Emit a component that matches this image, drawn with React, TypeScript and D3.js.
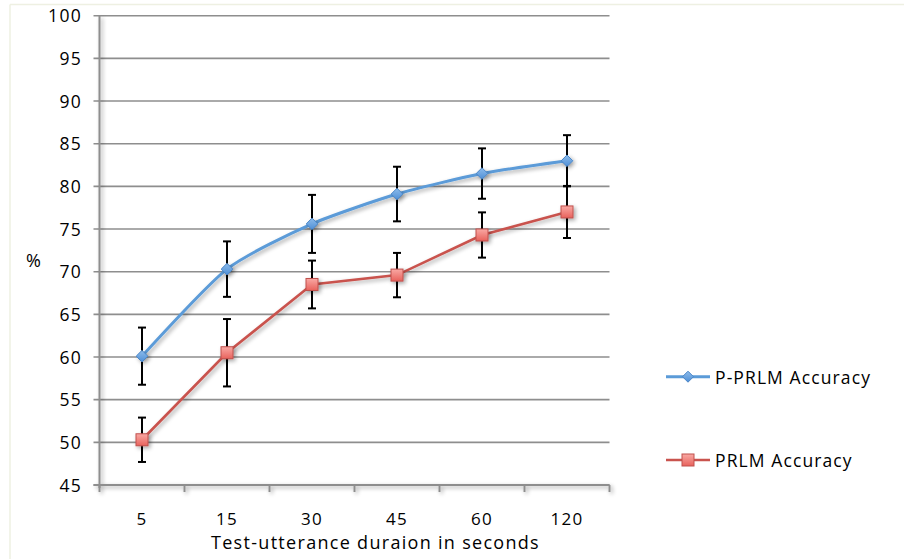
import React from "react";
import * as d3 from "d3";

const categories = ["5", "15", "30", "45", "60", "120"];
const pprlmValues = [60.1, 70.3, 75.6, 79.1, 81.5, 83.0];
const pprlmErrors = [3.35, 3.25, 3.4, 3.2, 2.95, 3.0];
const prlmValues = [50.3, 60.5, 68.5, 69.6, 74.3, 77.0];
const prlmErrors = [2.6, 3.95, 2.8, 2.6, 2.65, 3.05];
const yTicks = [45, 50, 55, 60, 65, 70, 75, 80, 85, 90, 95, 100];
const seriesNames = ["P-PRLM Accuracy", "PRLM Accuracy"];
const yLabel = "%";
const xLabel = "Test-utterance duraion in seconds";

const W = 904;
const H = 559;
const left = 99.5;
const right = 609.5;
const top = 15.7;
const bottom = 485;

const FONT = "'Open Sans', 'Liberation Sans', sans-serif";
const BLUE = "#5B9BD8";
const RED = "#C9534E";
const GRID = "#8E8E8E";
const TXT = "#000";

export default function App() {
  const x = d3.scalePoint<string>().domain(categories).range([left, right]).padding(0.5);
  const y = d3.scaleLinear().domain([45, 100]).range([bottom, top]);

  const blueLine = d3
    .line<number>()
    .x((_, i) => x(categories[i])!)
    .y((d) => y(d))
    .curve(d3.curveCardinal.tension(0.35));
  const redLine = d3
    .line<number>()
    .x((_, i) => x(categories[i])!)
    .y((d) => y(d));

  const step = x.step();
  const tickXs = d3.range(categories.length + 1).map((i) => left + i * step);

  const diamond = (cx: number, cy: number, r: number) =>
    `M${cx},${cy - r}L${cx + r},${cy}L${cx},${cy + r}L${cx - r},${cy}Z`;

  const errBars = (vals: number[], errs: number[], key: string) =>
    vals.map((v, i) => {
      const cx = x(categories[i])!;
      const y1 = y(v + errs[i]);
      const y2 = y(v - errs[i]);
      return (
        <g key={key + i} stroke="#000" strokeWidth={2}>
          <line x1={cx} x2={cx} y1={y1} y2={y2} />
          <line x1={cx - 4} x2={cx + 4} y1={y1} y2={y1} />
          <line x1={cx - 4} x2={cx + 4} y1={y2} y2={y2} />
        </g>
      );
    });

  return (
    <div style={{ position: "absolute", left: 0, top: 0, width: W, height: H, background: "#fff" }}>
      <svg width={W} height={H} style={{ display: "block" }}>
        <defs>
          <filter id="sh" x="-50%" y="-50%" width="200%" height="200%">
            <feGaussianBlur in="SourceAlpha" stdDeviation="2" />
            <feOffset dx="2" dy="2" result="b" />
            <feComponentTransfer>
              <feFuncA type="linear" slope="0.35" />
            </feComponentTransfer>
            <feMerge>
              <feMergeNode />
              <feMergeNode in="SourceGraphic" />
            </feMerge>
          </filter>
          <linearGradient id="redFill" x1="0" y1="0" x2="0" y2="1">
            <stop offset="0" stopColor="#F9A9A4" />
            <stop offset="1" stopColor="#E8625C" />
          </linearGradient>
          <linearGradient id="blueFill" x1="0" y1="0" x2="0" y2="1">
            <stop offset="0" stopColor="#8DBCEB" />
            <stop offset="1" stopColor="#4F8FD6" />
          </linearGradient>
        </defs>

        {/* outer frame */}
        <line x1={10} x2={904} y1={4.5} y2={4.5} stroke="#EEF0E2" strokeWidth={1.5} />
        <line x1={10} x2={10} y1={4.5} y2={559} stroke="#EEF0E2" strokeWidth={1.5} />

        {/* gridlines */}
        {yTicks.map((t) => (
          <line key={"g" + t} x1={left - 6} x2={right} y1={y(t)} y2={y(t)} stroke={GRID} strokeWidth={1.6} />
        ))}

        {/* axes with shadow */}
        <g filter="url(#sh)">
          <line x1={left} x2={left} y1={top} y2={bottom + 3} stroke={GRID} strokeWidth={2} />
          <line x1={left - 6} x2={right} y1={bottom} y2={bottom} stroke={GRID} strokeWidth={2} />
          {tickXs.map((tx, i) => (
            <line key={"t" + i} x1={tx} x2={tx} y1={bottom} y2={bottom + 7} stroke={GRID} strokeWidth={2} />
          ))}
        </g>

        {/* y tick labels */}
        {yTicks.map((t) => (
          <text
            key={"yl" + t}
            x={82}
            y={y(t) + 6.5}
            textAnchor="end"
            fontFamily={FONT}
            fontSize={17.5}
            letterSpacing={1.3}
            fill={TXT}
          >
            {t}
          </text>
        ))}
        <text x={26} y={267} fontFamily={FONT} fontSize={18} fill={TXT}>
          {yLabel}
        </text>

        {/* x tick labels */}
        {categories.map((c) => (
          <text
            key={"xl" + c}
            x={x(c)!}
            y={524.5}
            textAnchor="middle"
            fontFamily={FONT}
            fontSize={17}
            letterSpacing={1.2}
            fill={TXT}
          >
            {c}
          </text>
        ))}
        <text
          x={375.5}
          y={549}
          textAnchor="middle"
          fontFamily={FONT}
          fontSize={18}
          letterSpacing={1.3}
          fill={TXT}
        >
          {xLabel}
        </text>

        {/* lines */}
        <path d={redLine(prlmValues) || ""} fill="none" stroke={RED} strokeWidth={2.6} filter="url(#sh)" />
        <path d={blueLine(pprlmValues) || ""} fill="none" stroke={BLUE} strokeWidth={3} filter="url(#sh)" />

        {/* error bars */}
        {errBars(pprlmValues, pprlmErrors, "be")}
        {errBars(prlmValues, prlmErrors, "re")}

        {/* markers */}
        <g filter="url(#sh)">
          {pprlmValues.map((v, i) => (
            <path
              key={"bm" + i}
              d={diamond(x(categories[i])!, y(v), 5.8)}
              fill="url(#blueFill)"
              stroke="#4A86C8"
              strokeWidth={1}
            />
          ))}
          {prlmValues.map((v, i) => (
            <rect
              key={"rm" + i}
              x={x(categories[i])! - 6}
              y={y(v) - 6}
              width={12}
              height={12}
              fill="url(#redFill)"
              stroke="#C0504D"
              strokeWidth={1}
            />
          ))}
        </g>

        {/* legend */}
        <g>
          <line x1={666} x2={710} y1={376.7} y2={376.7} stroke={BLUE} strokeWidth={3} />
          <path d={diamond(688, 376.7, 5.5)} fill="url(#blueFill)" stroke="#4A86C8" strokeWidth={1} />
          <text x={715} y={383.5} fontFamily={FONT} fontSize={17.5} letterSpacing={1.1} fill={TXT}>
            {seriesNames[0]}
          </text>
          <line x1={666} x2={710} y1={460} y2={460} stroke={RED} strokeWidth={2.6} />
          <rect x={682} y={454} width={12} height={12} fill="url(#redFill)" stroke="#C0504D" strokeWidth={1} />
          <text x={715} y={466.5} fontFamily={FONT} fontSize={17.5} letterSpacing={1.1} fill={TXT}>
            {seriesNames[1]}
          </text>
        </g>
      </svg>
    </div>
  );
}
